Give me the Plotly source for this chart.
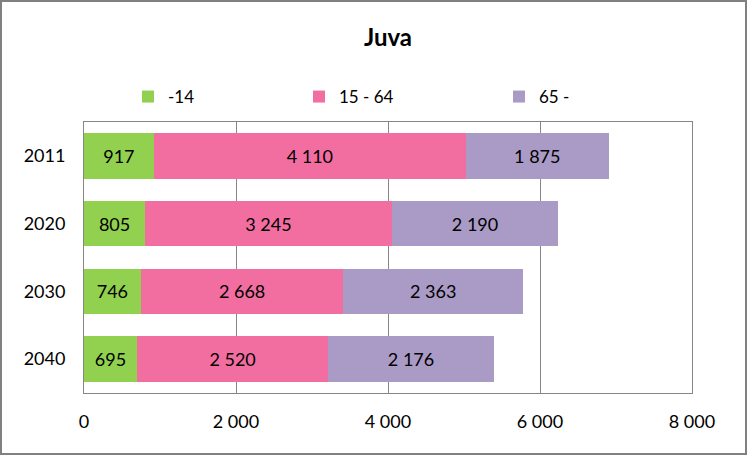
import plotly.graph_objects as go

years = ["2011", "2020", "2030", "2040"]
age_0_14 = [917, 805, 746, 695]
age_15_64 = [4110, 3245, 2668, 2520]
age_65 = [1875, 2190, 2363, 2176]
series_names = ["-14", "15 - 64", "65 -"]
colors = ["#92D050", "#F36EA0", "#AA9AC6"]
tick_vals = [0, 2000, 4000, 6000, 8000]
tick_text = ["0", "2 000", "4 000", "6 000", "8 000"]

def fmt(v):
    return f"{v:,}".replace(",", " ")

W, H = 747, 455
L, R, T, B = 84, 55, 122, 62
pw = W - L - R
ph = H - T - B

legend_text_x = [168, 339, 539]
legend_keys = ["legend", "legend2", "legend3"]

fig = go.Figure()
for name, vals, col, lk in zip(series_names, [age_0_14, age_15_64, age_65], colors, legend_keys):
    fig.add_trace(go.Bar(
        y=years, x=vals, name=name, orientation="h",
        marker=dict(color=col, line=dict(width=0)),
        text=[fmt(v) for v in vals], textposition="inside",
        insidetextanchor="middle",
        textfont=dict(color="black", size=18, family="Lato"),
        legend=lk,
    ))

legend_common = dict(orientation="h", yanchor="middle", y=1 + (T - 97) / ph,
                     xanchor="left", font=dict(size=17, family="Lato"),
                     bgcolor="rgba(0,0,0,0)", itemwidth=30)
layout_legends = {}
for lk, tx in zip(legend_keys, legend_text_x):
    layout_legends[lk] = dict(legend_common, x=(tx - 40 - L) / pw)

fig.update_layout(
    width=W, height=H,
    barmode="stack", bargap=0.33,
    margin=dict(l=L, r=R, t=T, b=B, autoexpand=False),
    paper_bgcolor="white", plot_bgcolor="white",
    font=dict(family="Lato", size=18, color="black"),
    title=dict(text="<b>Juva</b>", x=0.5, xanchor="center", xref="paper",
               y=1 - 38 / H, yanchor="middle",
               font=dict(size=24, family="Lato")),
    showlegend=True,
    uniformtext=dict(mode="show", minsize=10),
    xaxis=dict(range=[0, 8000], tickvals=tick_vals, ticktext=tick_text,
               showgrid=True, gridcolor="#868686", gridwidth=1,
               showline=True, linecolor="#868686", linewidth=1, mirror=True,
               zeroline=False, ticks="outside", ticklen=12, tickcolor="rgba(0,0,0,0)",
               tickfont=dict(size=18)),
    yaxis=dict(categoryorder="array", categoryarray=years, autorange="reversed",
               showline=True, linecolor="#868686", linewidth=1, mirror=True,
               showgrid=False, ticks="outside", ticklen=14, tickcolor="rgba(0,0,0,0)",
               tickfont=dict(size=18)),
    **layout_legends,
)

fig.add_shape(type="rect", xref="paper", yref="paper",
              x0=(1 - L) / pw, x1=(W - 1 - L) / pw,
              y0=-(B - 1) / ph, y1=1 + (T - 1) / ph,
              line=dict(color="#808080", width=2), fillcolor="rgba(0,0,0,0)")

fig.write_html("out.html", config={"displayModeBar": False},
               post_script="document.body.style.margin='0px';document.body.style.overflow='hidden';")
